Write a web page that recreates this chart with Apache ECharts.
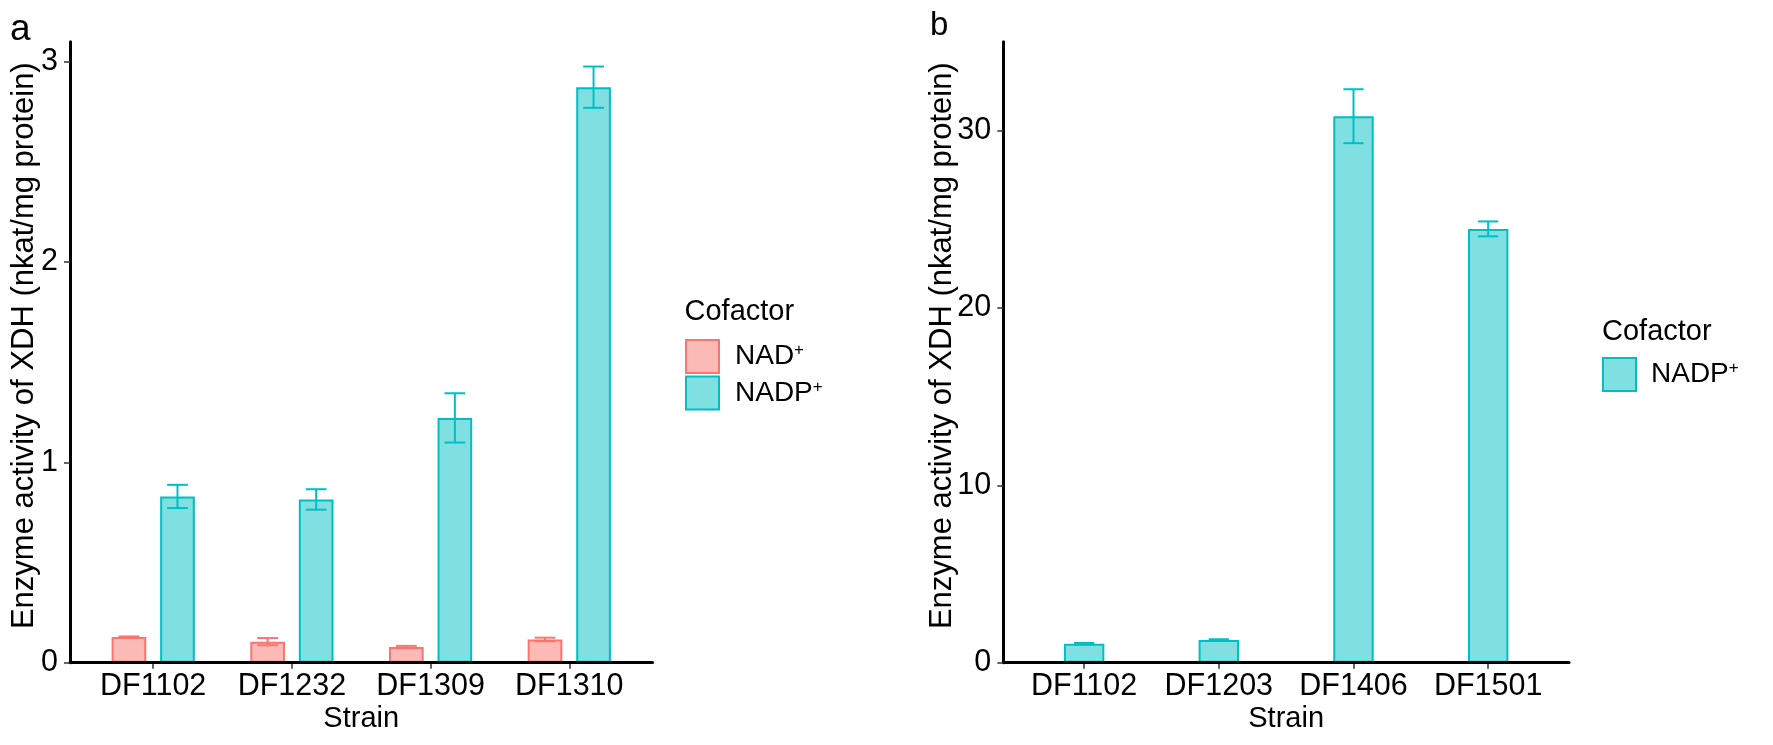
<!DOCTYPE html>
<html><head><meta charset="utf-8">
<script src="https://cdn.jsdelivr.net/npm/echarts@6/dist/echarts.min.js"></script>
<style>html,body{margin:0;padding:0;background:#fff;} #c{width:1773px;height:745px;}</style>
</head><body><div id="c"></div>
<script>
// ---------- data ----------
const strainsA = ['DF1102', 'DF1232', 'DF1309', 'DF1310'];
const nadMeanA = [0.128, 0.105, 0.078, 0.116];
const nadSeA = [0.003, 0.018, 0.006, 0.009];
const nadpMeanA = [0.830, 0.815, 1.222, 2.873];
const nadpSeA = [0.058, 0.051, 0.123, 0.103];
const yTicksA = [0, 1, 2, 3];
const yMaxA = 3.1;

const strainsB = ['DF1102', 'DF1203', 'DF1406', 'DF1501'];
const nadpMeanB = [1.07, 1.28, 30.80, 24.45];
const nadpSeB = [0.04, 0.04, 1.52, 0.42];
const yTicksB = [0, 10, 20, 30];
const yMaxB = 35;

const seriesNames = ['NAD+', 'NADP+'];
const legendTitle = 'Cofactor';
const xTitle = 'Strain';
const yTitle = 'Enzyme activity of XDH (nkat/mg protein)';

// ---------- style ----------
const FONT = "'Liberation Sans', Arial, Helvetica, sans-serif";
const FS_TICK = 30.5, FS_YT = 31, FS_XT = 29, FS_LEG = 28;
const RED = '#F8766D', RED_FILL = 'rgba(248,118,109,0.5)';
const CYAN = '#00BFC4', CYAN_FILL = 'rgba(0,191,196,0.5)';

const TOP = 41.7, H = 621;
const A = {left: 70, width: 582.5, n: strainsA.length};
const B = {left: 1003.3, width: 565.7, n: strainsB.length};
function dataGrid(p) {
  const band = p.width / (p.n - 1 + 1.2);
  return {left: p.left + 0.1 * band, top: TOP, width: band * p.n, height: H};
}

function frameY(gridIndex, max, ticks, nameGap) {
  return {
    type: 'value', gridIndex, min: 0, max, z: 10,
    name: yTitle, nameLocation: 'middle', nameRotate: 90, nameGap, nameMoveOverlap: false,
    nameTextStyle: {fontFamily: FONT, fontSize: FS_YT, color: '#000', padding: [0, 0, 0, 13]},
    axisLine: {show: true, lineStyle: {color: '#000', width: 3}},
    axisTick: {show: true, length: 6, customValues: ticks, lineStyle: {color: '#333', width: 1.5}},
    axisLabel: {show: true, margin: 12, customValues: ticks, fontFamily: FONT, fontSize: FS_TICK, color: '#000'},
    splitLine: {show: false}
  };
}
function frameX(gridIndex) {
  return {
    type: 'value', gridIndex, min: 0, max: 1, z: 10,
    axisLine: {show: true, onZero: false, lineStyle: {color: '#000', width: 3}},
    axisTick: {show: false}, axisLabel: {show: false}, splitLine: {show: false}
  };
}
function dataX(gridIndex, cats) {
  return {
    type: 'category', gridIndex, data: cats, boundaryGap: true,
    name: xTitle, nameLocation: 'middle', nameGap: 42, nameMoveOverlap: false,
    nameTextStyle: {fontFamily: FONT, fontSize: FS_XT, color: '#000'},
    axisLine: {show: false},
    axisTick: {show: true, alignWithLabel: true, length: 6, lineStyle: {color: '#333', width: 1.5}},
    axisLabel: {show: true, margin: 8, fontFamily: FONT, fontSize: FS_TICK, color: '#000', interval: 0},
    splitLine: {show: false}
  };
}
function dataY(gridIndex, max) {
  return {type: 'value', gridIndex, min: 0, max, show: false, splitLine: {show: false}};
}

function errorSeries(axisIndex, means, ses, offset, color) {
  return {
    type: 'custom', xAxisIndex: axisIndex, yAxisIndex: axisIndex, silent: true, z: 5,
    data: means.map((m, i) => [i, m - ses[i], m + ses[i]]),
    renderItem: function (params, api) {
      const i = api.value(0);
      const top = api.coord([i, api.value(2)]);
      const bot = api.coord([i, api.value(1)]);
      const band = api.size([1, 0])[0];
      const x = top[0] + offset * band;
      const half = 0.075 * band;
      const st = {stroke: color, lineWidth: 2};
      return {type: 'group', children: [
        {type: 'line', shape: {x1: x, y1: top[1], x2: x, y2: bot[1]}, style: st},
        {type: 'line', shape: {x1: x - half, y1: top[1], x2: x + half, y2: top[1]}, style: st},
        {type: 'line', shape: {x1: x - half, y1: bot[1], x2: x + half, y2: bot[1]}, style: st}
      ]};
    }
  };
}

function legendRich(gap) {
  return {
    n: {fontFamily: FONT, fontSize: FS_LEG, color: '#000', padding: [0, 0, 0, gap]},
    s: {fontFamily: FONT, fontSize: 17, color: '#000', padding: [0, 0, 12, 0]}
  };
}
const legendFmt = n => '{n|' + n.replace('+', '') + '}{s|+}';
const titleStyle = fs => ({fontFamily: FONT, fontSize: fs, fontWeight: 'normal', color: '#000'});

const option = {
  backgroundColor: '#fff',
  animation: false,
  title: [
    {text: 'a', left: 10, top: 11, padding: 0, textStyle: titleStyle(37)},
    {text: 'b', left: 930, top: 9, padding: 0, textStyle: titleStyle(33)},
    {text: legendTitle, left: 684.5, top: 297, padding: 0, textStyle: titleStyle(FS_LEG + 1)},
    {text: legendTitle, left: 1602, top: 317, padding: 0, textStyle: titleStyle(FS_LEG + 1)}
  ],
  legend: [
    {
      data: [
        {name: seriesNames[0], itemStyle: {color: RED_FILL, borderColor: RED, borderWidth: 2}},
        {name: seriesNames[1], itemStyle: {color: CYAN_FILL, borderColor: CYAN, borderWidth: 2}}
      ],
      orient: 'vertical', left: 685, top: 339, padding: 0, itemWidth: 33, itemHeight: 33, itemGap: 1.5,
      icon: 'rect', selectedMode: false, formatter: legendFmt,
      textStyle: {fontFamily: FONT, fontSize: FS_LEG, color: '#000', rich: legendRich(11)}
    },
    {
      data: [
        {name: seriesNames[1], itemStyle: {color: CYAN_FILL, borderColor: CYAN, borderWidth: 2}}
      ],
      orient: 'vertical', left: 1602, top: 357, padding: 0, itemWidth: 33, itemHeight: 33, itemGap: 1.5,
      icon: 'rect', selectedMode: false, formatter: legendFmt,
      textStyle: {fontFamily: FONT, fontSize: FS_LEG, color: '#000', rich: legendRich(10)}
    }
  ],
  grid: [
    {left: A.left, top: TOP, width: A.width, height: H},
    dataGrid(A),
    {left: B.left, top: TOP, width: B.width, height: H},
    dataGrid(B)
  ],
  xAxis: [frameX(0), dataX(1, strainsA), frameX(2), dataX(3, strainsB)],
  yAxis: [
    frameY(0, yMaxA, yTicksA, 30.5),
    dataY(1, yMaxA),
    frameY(2, yMaxB, yTicksB, 45),
    dataY(3, yMaxB)
  ],
  series: [
    {type: 'bar', name: seriesNames[0], xAxisIndex: 1, yAxisIndex: 1, data: nadMeanA,
      barWidth: '25%', barGap: '40%',
      itemStyle: {color: RED_FILL, borderColor: RED, borderWidth: 2}},
    {type: 'bar', name: seriesNames[1], xAxisIndex: 1, yAxisIndex: 1, data: nadpMeanA,
      barWidth: '25%', barGap: '40%',
      itemStyle: {color: CYAN_FILL, borderColor: CYAN, borderWidth: 2}},
    errorSeries(1, nadMeanA, nadSeA, -0.175, RED),
    errorSeries(1, nadpMeanA, nadpSeA, 0.175, CYAN),
    {type: 'bar', name: seriesNames[1], xAxisIndex: 3, yAxisIndex: 3, data: nadpMeanB,
      barWidth: '30%',
      itemStyle: {color: CYAN_FILL, borderColor: CYAN, borderWidth: 2}},
    errorSeries(3, nadpMeanB, nadpSeB, 0, CYAN)
  ]
};

const chart = echarts.init(document.getElementById('c'), null, {renderer: 'canvas'});
chart.setOption(option);
</script>
</body></html>
